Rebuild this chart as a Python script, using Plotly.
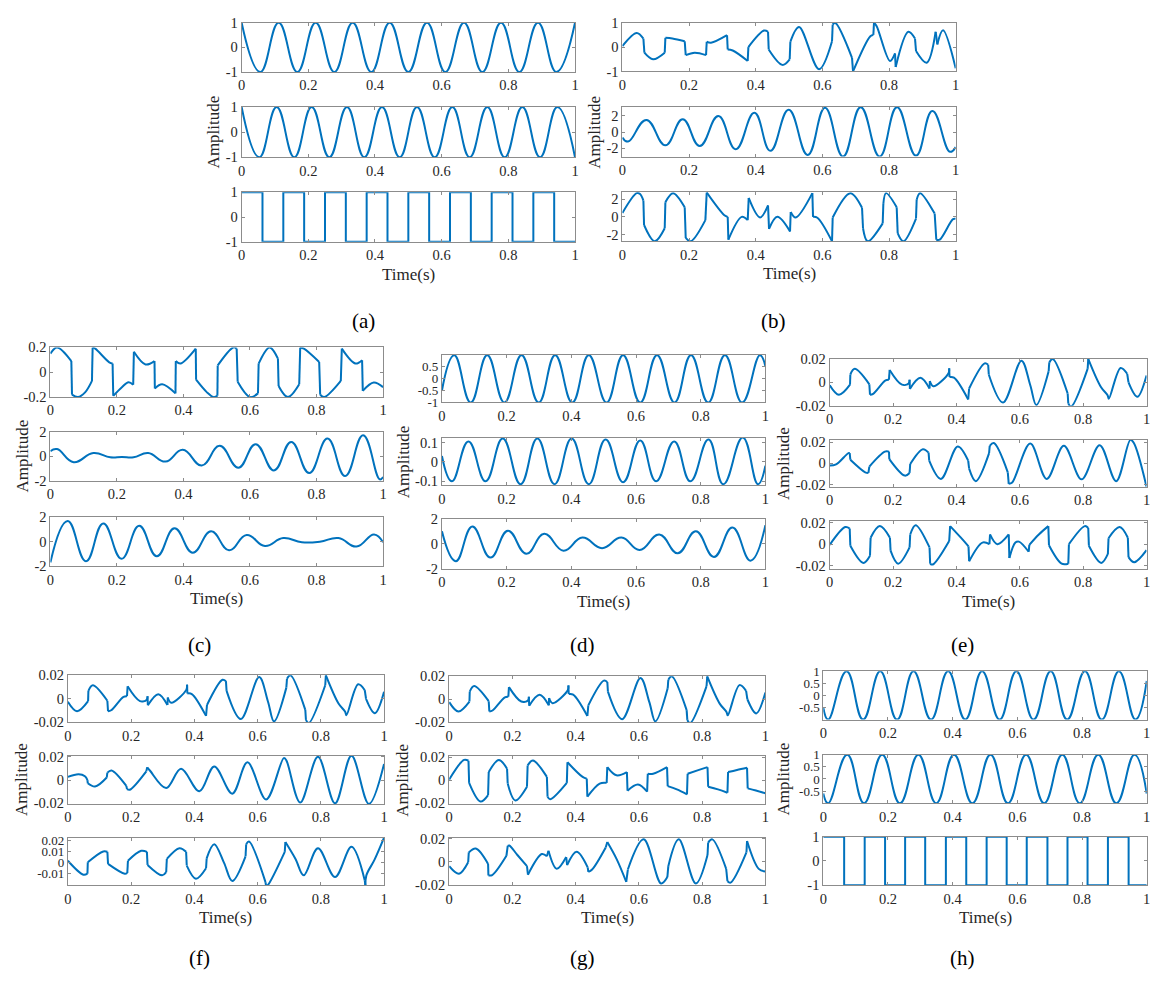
import plotly.graph_objects as go

W, H = 1156, 987
BLUE = "#0072BD"
N = None

# ---------------- data ----------------
# None marks a vertical jump in the waveform
a1_t = [0, .056, .111, .167, .222, .278, .333, .389, .444, .5, .556, .611, .667, .722, .778, .833, .889, .944, 1.0]
a1_y = [1, -1, 1, -1, 1, -1, 1, -1, 1, -1, 1, -1, 1, -1, 1, -1, 1, -1, 1]
a2_t = [0, .053, .105, .158, .21, .263, .316, .368, .421, .474, .526, .579, .632, .684, .737, .789, .842, .895, .947, 1.0]
a2_y = [1, -1, 1, -1, 1, -1, 1, -1, 1, -1, 1, -1, 1, -1, 1, -1, 1, -1, 1, -1]
a3_t = [0, .0625, .125, .1875, .25, .3125, .375, .4375, .5, .5625, .625, .6875, .75, .8125, .875, .9375, 1.0]
a3_y = [1, -1, 1, -1, 1, -1, 1, -1, 1, -1, 1, -1, 1, -1, 1, -1, -1]

b1_t = [0, .043, .063, N, .066, .092, .127, N, .129, .15, .187, N, .19, .217, .251, N, .253, .266, .314, N,
        .316, .331, .376, N, .378, .425, .437, N, .439, .48, .502, N, .504, .53, .59, .629, N, .631, .639, .689, N,
        .692, .744, .753, N, .755, .763, .803, .818, N, .82, .858, .878, N, .881, .913, .94, N, .945, .962, 1.0]
b1_y = [.04, .58, .35, N, -.23, -.5, -.23, N, .38, .35, .24, N, -.33, -.23, -.33, N, .22, .18, .49, N,
        -.1, -.14, -.57, N, 0, .68, .63, N, -.1, -.73, -.5, N, .22, .83, -.91, .24, N, .93, .99, -.44, N,
        -1, .45, .5, N, 1, .86, -.57, -.26, N, -.82, .63, .35, N, -.16, -.64, .63, N, .11, .69, -.87]
b2_t = [0, .017, .072, .129, .181, .232, .288, .34, .396, .444, .499, .556, .608, .662, .715, .772, .824, .881, .93, .983, 1.0]
b2_y = [-.67, -1.19, 1.5, -1.66, 1.58, -1.74, 1.98, -2.14, 2.38, -2.34, 2.77, -2.85, 3.0, -3.05, 3.09, -3.05, 3.09, -2.93, 2.61, -2.46, -1.86]
b3_t = [0, .043, .053, .063, N, .065, .097, .127, N, .129, .152, .187, N, .19, .205, .249, N, .253, .306, .316, N,
        .318, .358, .376, N, .379, .413, .437, N, .44, .465, .503, N, .505, .52, .57, N, .572, .585, .629, N,
        .631, .684, .719, N, .722, .736, .781, N, .783, .791, .823, N, .826, .843, .881, N, .883, .893, .937, N,
        .942, .952, .992, 1.0]
b3_y = [.44, 2.7, 2.6, 1.85, N, -.93, -2.78, -1.3, N, 1.67, 2.7, 1.1, N, -2.4, -2.78, -.37, N, 2.78, .19, 0, N,
        -2.6, 0, -.37, N, 2.15, -.07, 1.3, N, -1.37, 0, -1.67, N, .56, -.07, 2.7, N, 0, -.1, -2.78, N,
        -.07, 2.7, 1.04, N, -1.3, -2.78, -.74, N, 1.48, 2.7, 1.1, N, -1.85, -2.78, -.19, N, 1.96, 2.7, .37, N,
        -2.6, -2.6, -.26, -.22]

c1_t = [0, .02, .063, N, .065, .083, .105, .125, N, .127, .135, .177, .187, N, .189, .215, .235, .249, N,
        .251, .286, .313, N, .314, .336, .376, N, .377, .391, .437, N, .438, .47, .49, .502, N, .503, .55, .56, N,
        .563, .6, .624, N, .626, .659, .684, N, .686, .714, .748, N, .751, .762, .808, N, .811, .823, .873, N,
        .876, .917, .937, N, .939, .972, 1.0]
c1_y = [.15, .2, .09, N, -.18, -.2, -.16, -.07, N, .2, .19, .08, .07, N, -.19, -.12, -.08, -.1, N,
        .165, .063, .09, N, -.13, -.097, -.17, N, .09, .07, .19, N, -.06, -.16, -.2, -.19, N, .055, .2, .19, N,
        -.077, -.2, -.17, N, .07, .2, .11, N, -.11, -.2, -.097, N, .2, .19, .083, N, -.18, -.2, -.07, N,
        .19, .07, .097, N, -.15, -.083, -.12]
c2_t = [0, .02, .07, .129, .18, .215, .25, .294, .346, .398, .455, .509, .565, .617, .672, .724, .778, .833, .886, .94, .99, 1.0]
c2_y = [.42, .59, -.48, .27, -.08, -.05, -.08, .27, -.43, .53, -.75, .85, -.93, .99, -1.15, 1.17, -1.36, 1.44, -1.6, 1.71, -1.87, -1.68]
c3_t = [0, .052, .107, .159, .214, .267, .32, .373, .428, .483, .537, .59, .645, .7, .756, .81, .866, .92, .973, 1.0]
c3_y = [-1.7, 1.7, -1.6, 1.5, -1.4, 1.3, -1.2, 1.1, -.9, .85, -.7, .55, -.35, .3, -.05, 0, .3, -.4, .6, -.05]

d1_t = [0, .038, .089, .14, .193, .246, .299, .35, .403, .454, .509, .56, .613, .665, .719, .77, .823, .875, .928, .983, 1.0]
d1_y = [-.5, .96, -1, .96, -1, .96, -1, .96, -1, .96, -1, .96, -1, .96, -1, .96, -1, .96, -1, .96, .5]
d2_t = [0, .031, .082, .135, .188, .243, .295, .348, .401, .454, .506, .56, .613, .662, .718, .768, .824, .87, .93, .977, 1.0]
d2_y = [.03, -.1, .105, -.1, .12, -.115, .12, -.115, .12, -.115, .115, -.105, .11, -.1, .105, -.1, .115, -.115, .125, -.115, -.02]
d3_t = [0, .043, .094, .15, .204, .261, .316, .376, .434, .495, .555, .611, .672, .729, .785, .841, .898, .954, 1.0]
d3_y = [1.0, -1.39, 1.39, -1.1, 1.05, -.8, .8, -.55, .5, -.35, .5, -.5, .75, -.75, 1.0, -1.05, 1.3, -1.35, 1.5]

e1_t = [0, .029, .064, N, .065, .079, .125, N, .127, .137, .176, .187, N, .189, .228, .249, .252, N,
        .253, .286, .315, N, .316, .327, .375, .377, N, .378, .392, .437, N, .44, .489, .5, N,
        .502, .547, .605, .633, .652, .691, N, .693, .704, .751, N, .753, .762, .814, N,
        .816, .856, .877, .881, .918, .939, N, .943, .971, 1.0]
e1_y = [-.0025, -.0106, -.002, N, .0067, .0115, -.0017, N, -.0106, -.0098, .0017, .0022, N, .0106, -.002, -.001, .0022, N,
        -.0056, .0039, -.0053, N, .0011, -.0034, .0078, .012, N, .0045, .004, -.0146, N, -.0053, .0162, .015, N,
        .0067, -.0173, .0185, -.0025, -.0193, .0095, N, .017, .02, -.0095, N, -.018, -.0207, .0115, N,
        .02, -.004, -.011, -.014, .0123, .0073, N, 0, -.0123, .0059]
e2_t = [0, .02, .059, .063, N, .065, .112, .122, N, .125, .174, .187, N, .188, .237, .252, N, .254, .294, .312, N,
        .314, .351, .404, .437, N, .44, .461, .503, N, .505, .518, .562, N,
        .565, .576, .633, .685, .739, .795, .852, .904, .949, .96, 1.0]
e2_y = [-.002, -.001, .0096, .0095, N, .0034, -.0084, -.009, N, -.003, .011, .011, N, .004, -.0115, -.009, N, -.0006, .0133, .01, N,
        .0025, -.0146, .0158, .0025, N, -.005, -.0167, .0096, N, .0164, .019, -.0084, N,
        -.0192, -.018, .0185, -.0146, .0164, -.015, .017, -.0167, .022, .019, -.022]
e3_t = [0, .049, .063, N, .065, .106, .127, N, .129, .158, .19, N, .192, .216, .252, N, .254, .271, .315, N,
        .317, .325, .377, N, .38, .414, .438, N, .44, .482, .504, N, .506, .529, .565, N, .567, .586, .597, .628, N,
        .63, .66, .69, N, .692, .732, .753, N, .755, .805, .816, N, .818, .857, .878, N, .88, .915, .941, N,
        .943, .961, 1.0]
e3_y = [-.0006, .0158, .0145, N, -.0015, -.0173, -.0106, N, .006, .0167, .006, N, -.006, -.018, -.003, N, .009, .0176, -.003, N,
        -.018, -.0188, .003, N, .0167, .006, -.002, N, -.0158, .0015, 0, N, .009, 0, .009, N, -.0127, .0015, .0024, -.007, N,
        -.0006, .009, .0167, N, -.001, -.018, -.018, N, 0, .0167, .015, N, -.0015, -.0173, -.009, N, .0055, .0158, .006, N,
        -.012, -.0167, -.0055]

f2_t = [0, .034, .054, .062, N, .063, .086, .123, N, .125, .138, .185, N, .187, .196, .248, N,
        .251, .26, .311, .358, .416, .463, .52, .568, .627, .683, .691, .735, .791, .845, .897, .952, 1.0]
f2_y = [.0028, .005, .0033, 0, N, -.0028, -.0056, .0022, N, .0064, .0083, -.005, N, -.0078, -.0083, .0075, N,
        .011, .008, -.0069, .0097, -.0097, .0117, -.0117, .0153, -.0167, .0189, .017, -.0194, .02, -.02, .021, -.0205, .0139]
f3_t = [0, .049, .062, N, .063, .112, .125, N, .127, .18, .188, N, .19, .232, .25, N, .252, .298, .311, N,
        .313, .353, .374, N, .376, .405, .437, N, .439, .463, .494, .52, .562, N, .564, .573, .625, N,
        .627, .632, .686, N, .688, .72, .746, .791, .845, .897, .939, N, .941, .944, .97, 1.0]
f3_y = [.002, -.0107, -.0098, N, .0006, .0104, .0101, N, -.0009, -.0099, -.0092, N, .002, .011, .0101, N, -.0018, -.0113, -.0084, N,
        .0036, .0134, .0101, N, -.0024, -.0143, -.0048, N, .0042, .017, 0, -.0164, .006, N, .017, .0194, -.0175, N,
        -.021, -.0203, .0101, N, .019, .0036, -.0113, .0134, -.0128, .0146, -.016, N, -.0205, -.0113, .003, .023]

g2_t = [0, .047, .061, N, .063, .099, .123, N, .125, .157, .183, N, .185, .209, .246, N, .248, .265, .309, N,
        .311, .319, .372, N, .374, .422, .435, N, .437, .476, .498, N, .5, .529, .562, N, .564, .597, .626, N,
        .628, .645, .689, N, .691, .72, .752, N, .754, .79, .817, N, .819, .85, .88, N, .882, .91, .942, N,
        .944, .97, 1.0]
g2_y = [.0006, .0177, .017, N, -.0023, -.0186, -.0129, N, .0071, .0177, .01, N, -.0029, -.0177, -.0057, N, .0129, .0171, .0029, N,
        -.0143, -.0166, -.0023, N, .0157, .0029, .0014, N, -.0143, -.0029, -.0023, N, .0114, .0043, .0071, N, -.0091, -.0037, -.01, N,
        .0057, .0057, .0114, N, -.0051, -.008, -.0123, N, .0057, .009, .0114, N, -.0057, -.008, -.0109, N, .0071, .009, .0109, N,
        -.0071, -.009, -.0114]
g3_t = [0, .031, .06, N, .062, .084, .123, N, .124, .136, .181, N, .185, .19, .215, .246, N, .249, .293, .309, N,
        .314, .34, .37, N, .373, .403, .438, N, .44, .452, .495, N, .5, .53, .56, N, .565, .615, .67, .69, N,
        .693, .726, .78, .817, N, .819, .832, .876, N, .88, .89, .94, N, .942, .979, 1.0]
g3_y = [-.004, -.0106, -.0006, N, .008, .0114, -.002, N, -.012, -.0117, .0051, N, .0137, .014, .006, -.004, N, -.0114, .0066, .0046, N,
        .0094, -.0063, .004, N, -.003, .0086, -.005, N, -.009, -.0069, .0123, N, .0171, .002, -.0177, N, -.0069, .0194, -.0191, -.0135, N,
        -.004, .0194, -.0191, .0057, N, .0166, .0194, -.0063, N, -.0171, -.0183, .008, N, .018, -.0063, -.0086]

h1_t = [0, .015, .072, .123, .176, .228, .279, .333, .386, .439, .491, .545, .597, .65, .703, .754, .809, .861, .914, .965, 1.0]
h1_y = [-.5, -1, 1, -1, 1, -1, 1, -1, 1, -1, 1, -1, 1, -1, 1, -1, 1, -1, 1, -1, .6]
h2_t = [0, .015, .074, .126, .182, .237, .294, .349, .404, .461, .517, .571, .627, .683, .739, .793, .85, .906, .962, 1.0]
h2_y = [-.6, -1, 1, -1, 1, -1, 1, -1, 1, -1, 1, -1, 1, -1, 1, -1, 1, -1, 1, -.6]
h3_t = [0, .0645, .128, .191, .253, .315, .379, .442, .505, .567, .629, .693, .755, .817, .88, .944, 1.0]
h3_y = [1, -1, 1, -1, 1, -1, 1, -1, 1, -1, 1, -1, 1, -1, 1, -1, -1]

x_ticks = [0, 0.2, 0.4, 0.6, 0.8, 1]

# (t, y, kind, y-range, y-ticks) per subplot, top to bottom
SERIES = {
    "a": [(a1_t, a1_y, "wave", (-1, 1), [-1, 0, 1]),
          (a2_t, a2_y, "wave", (-1, 1), [-1, 0, 1]),
          (a3_t, a3_y, "step", (-1, 1), [-1, 0, 1])],
    "b": [(b1_t, b1_y, "jumpy", (-1, 1), [-1, 0, 1]),
          (b2_t, b2_y, "wave", (-3.05, 3.1), [-2, 0, 2]),
          (b3_t, b3_y, "jumpy", (-2.8, 2.8), [-2, 0, 2])],
    "c": [(c1_t, c1_y, "jumpy", (-0.2, 0.2), [-0.2, 0, 0.2]),
          (c2_t, c2_y, "wave", (-2, 2), [-2, 0, 2]),
          (c3_t, c3_y, "wave", (-2, 2), [-2, 0, 2])],
    "d": [(d1_t, d1_y, "wave", (-1, 0.97), [-1, -0.5, 0, 0.5]),
          (d2_t, d2_y, "wave", (-0.12, 0.125), [-0.1, 0, 0.1]),
          (d3_t, d3_y, "wave", (-2, 2), [-2, 0, 2])],
    "e": [(e1_t, e1_y, "jumpy", (-0.02, 0.02), [-0.02, 0, 0.02]),
          (e2_t, e2_y, "jumpy", (-0.022, 0.022), [-0.02, 0, 0.02]),
          (e3_t, e3_y, "jumpy", (-0.0227, 0.0212), [-0.02, 0, 0.02])],
    "f": [(e1_t, e1_y, "jumpy", (-0.02, 0.02), [-0.02, 0, 0.02]),
          (f2_t, f2_y, "jumpy", (-0.0205, 0.021), [-0.02, 0, 0.02]),
          (f3_t, f3_y, "jumpy", (-0.0203, 0.023), [-0.01, 0, 0.01, 0.02])],
    "g": [(e1_t, e1_y, "jumpy", (-0.02, 0.02), [-0.02, 0, 0.02]),
          (g2_t, g2_y, "jumpy", (-0.0206, 0.0214), [-0.02, 0, 0.02]),
          (g3_t, g3_y, "jumpy", (-0.0206, 0.0209), [-0.02, 0, 0.02])],
    "h": [(h1_t, h1_y, "wave", (-1, 1), [-0.5, 0, 0.5, 1]),
          (h2_t, h2_y, "wave", (-1, 1), [-0.5, 0, 0.5, 1]),
          (h3_t, h3_y, "step", (-1, 1), [-1, 0, 1])],
}

# ---------------- layout (pixel boxes) ----------------
BOX = {
    "a": ((239.3, 575.0), [(15, 65), (100.7, 151.7), (187.3, 237.7)]),
    "b": ((622.7, 958.3), [(15, 64.5), (100.7, 151), (187.3, 237.3)]),
    "c": ((46.7, 381.7), [(345, 395.5), (430.7, 480.7), (517.7, 567.3)]),
    "d": ((441, 766.7), [(352.7, 401), (436.7, 485), (519.3, 570)]),
    "e": ((831.5, 1150.5), [(356.7, 404.3), (439, 486.7), (521.7, 570)]),
    "f": ((64.3, 382.7), [(678.3, 726), (760, 809), (843.3, 891.7)]),
    "g": ((448.3, 766.7), [(679.3, 726), (760, 809), (843.3, 891.7)]),
    "h": ((825, 1150.7), [(674.3, 723.3), (759, 808.3), (842.3, 891.7)]),
}
AMP_X = {"a": 210.7, "b": 595, "c": 18.3, "d": 401.7, "e": 785, "f": 18.3, "g": 401.7, "h": 785}
LABEL_POS = {"a": (362, 318), "b": (775, 318), "c": (197, 648), "d": (583, 648), "e": (965, 648),
             "f": (197, 966), "g": (583, 966), "h": (965, 966)}

FONT = "Liberation Serif, Times New Roman, serif"
TICK_SIZE = 14.5
DENSE_TICK_SIZE = 13
AXIS_COLOR = "#8c8c8c"
TEXT_COLOR = "#262626"
SMOOTH = {"wave": 1.3, "jumpy": 1.0}


def with_jumps(t, y):
    segs, st, sy = [], [], []
    for tv, yv in zip(t, y):
        if tv is None:
            segs.append((st, sy))
            st, sy = [], []
        else:
            st.append(tv)
            sy.append(yv)
    segs.append((st, sy))
    xs, ys = [], []
    for k, (st, sy) in enumerate(segs):
        if k > 0:
            pt, py = segs[k - 1]
            xs += [None, pt[-1], st[0], None]
            ys += [None, py[-1], sy[0], None]
        xs += st
        ys += sy
    return xs, ys


def fmt(v):
    return "0" if v == 0 else f"{v:g}"


fig = go.Figure()
annotations = []
idx = 0
for key, series in SERIES.items():
    (x0, x1), rows = BOX[key]
    for r, (t, y, kind, yr, yt) in enumerate(series):
        assert len(t) == len(y)
        idx += 1
        xa = "x" if idx == 1 else f"x{idx}"
        ya = "y" if idx == 1 else f"y{idx}"
        if kind == "step":
            fig.add_trace(go.Scatter(x=t, y=y, mode="lines", line=dict(color=BLUE, width=2, shape="hv"),
                                     xaxis=xa, yaxis=ya, showlegend=False, hoverinfo="skip"))
        else:
            xs, ys = with_jumps(t, y)
            fig.add_trace(go.Scatter(x=xs, y=ys, mode="lines",
                                     line=dict(color=BLUE, width=2, shape="spline", smoothing=SMOOTH[kind]),
                                     connectgaps=False, xaxis=xa, yaxis=ya, showlegend=False,
                                     hoverinfo="skip"))
        y0, y1 = rows[r]
        common = dict(showline=True, linecolor=AXIS_COLOR, linewidth=1, mirror="ticks",
                      ticks="inside", ticklen=3, tickcolor=AXIS_COLOR, showgrid=False,
                      zeroline=False, tickmode="array")
        # labels packed closer than ~13 px get a slightly smaller font
        spacing = (y1 - y0) * (yt[1] - yt[0]) / (yr[1] - yr[0])
        ysize = DENSE_TICK_SIZE if spacing < 13 else TICK_SIZE
        xname = "xaxis" if idx == 1 else f"xaxis{idx}"
        yname = "yaxis" if idx == 1 else f"yaxis{idx}"
        fig.layout[xname] = dict(domain=[x0 / W, x1 / W], range=[0, 1], anchor=ya,
                                 tickvals=x_ticks, ticktext=[fmt(v) for v in x_ticks],
                                 ticklabeloverflow="allow",
                                 tickfont=dict(family=FONT, size=TICK_SIZE, color=TEXT_COLOR), **common)
        fig.layout[yname] = dict(domain=[1 - y1 / H, 1 - y0 / H], range=list(yr), anchor=xa,
                                 tickvals=yt, ticktext=[fmt(v) for v in yt],
                                 tickfont=dict(family=FONT, size=ysize, color=TEXT_COLOR), **common)
    my = (rows[1][0] + rows[1][1]) / 2
    annotations.append(dict(text="Amplitude", x=AMP_X[key] / W, y=1 - my / H, xref="paper", yref="paper",
                            textangle=-90, showarrow=False, xanchor="center", yanchor="middle",
                            font=dict(family=FONT, size=17, color=TEXT_COLOR)))
    annotations.append(dict(text="Time(s)", x=(x0 + x1) / 2 / W, y=1 - (rows[2][1] + 33) / H,
                            xref="paper", yref="paper", showarrow=False, xanchor="center", yanchor="middle",
                            font=dict(family=FONT, size=17, color=TEXT_COLOR)))
    lx, ly = LABEL_POS[key]
    annotations.append(dict(text=f"({key})", x=lx / W, y=1 - ly / H, xref="paper", yref="paper",
                            showarrow=False, xanchor="center", yanchor="middle",
                            font=dict(family=FONT, size=21, color="#000000")))

fig.update_layout(width=W, height=H, margin=dict(l=0, r=0, t=0, b=0),
                  paper_bgcolor="white", plot_bgcolor="white", annotations=annotations,
                  showlegend=False)
fig.write_html("out.html", config={"displayModeBar": False},
               post_script="document.body.style.margin='0';document.body.style.overflow='hidden';")
